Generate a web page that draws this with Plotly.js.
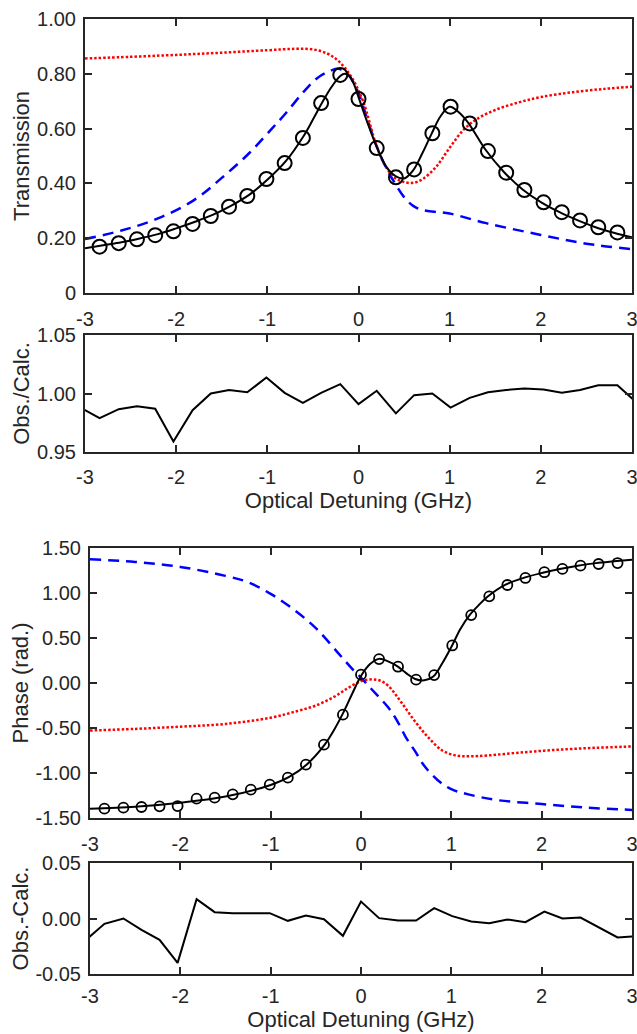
<!DOCTYPE html>
<html>
<head>
<meta charset="utf-8">
<script src="https://cdn.plot.ly/plotly-3.0.1.min.js"></script>
<style>
html,body{margin:0;padding:0;background:#fff;}
#chart{width:637px;height:1034px;}
</style>
</head>
<body>
<div id="chart"></div>
<script>
// ---------- data ----------
// measured detuning points (GHz); first/last lie just outside the plotted range
const detuning = [-3.04,-2.84,-2.63,-2.43,-2.23,-2.03,-1.82,-1.62,-1.42,-1.22,-1.01,-0.81,-0.61,-0.41,-0.20,0.00,0.20,0.41,0.61,0.81,1.01,1.22,1.42,1.62,1.82,2.03,2.23,2.43,2.63,2.84,3.04];
// observed transmission at detuning[1..29]
const transObs = [0.169,0.182,0.196,0.211,0.225,0.252,0.281,0.315,0.354,0.416,0.474,0.566,0.693,0.796,0.708,0.529,0.422,0.451,0.583,0.680,0.619,0.518,0.439,0.376,0.331,0.295,0.265,0.240,0.221];
// Obs./Calc. at every detuning point
const transRatio = [0.9874,0.979,0.9866,0.989,0.987,0.959,0.9857,1.000,1.003,1.001,1.0137,1.0006,0.992,1.0006,1.008,0.9909,1.0023,0.983,0.9986,1.000,0.988,0.9963,1.001,1.003,1.0043,1.0034,1.0006,1.003,1.007,1.007,0.993];

// fitted transmission (black solid)
const transFitX = [-3.0,-2.8,-2.6,-2.4,-2.2,-2.0,-1.8,-1.6,-1.4,-1.2,-1.0,-0.8,-0.6,-0.5,-0.4,-0.3,-0.2,-0.15,-0.1,-0.05,0.0,0.1,0.2,0.3,0.4,0.5,0.6,0.7,0.8,0.9,1.0,1.1,1.2,1.4,1.6,1.8,2.0,2.2,2.4,2.6,2.8,3.0];
const transFitY = [0.163,0.174,0.185,0.199,0.215,0.236,0.259,0.285,0.318,0.358,0.413,0.480,0.574,0.633,0.694,0.750,0.792,0.800,0.792,0.762,0.715,0.620,0.533,0.463,0.428,0.418,0.448,0.510,0.580,0.645,0.680,0.660,0.623,0.520,0.440,0.378,0.332,0.296,0.266,0.240,0.220,0.203];
// blue dashed component
const transBlueX = [-3.0,-2.6,-2.2,-1.8,-1.5,-1.2,-0.95,-0.8,-0.6,-0.45,-0.3,-0.22,-0.12,0.0,0.1,0.2,0.3,0.4,0.5,0.6,0.7,0.85,1.0,1.4,2.0,2.5,3.0];
const transBlueY = [0.197,0.228,0.272,0.340,0.420,0.510,0.600,0.655,0.735,0.785,0.812,0.818,0.800,0.730,0.630,0.535,0.460,0.400,0.350,0.318,0.303,0.296,0.290,0.255,0.212,0.180,0.160];
// red dotted component
const transRedX = [-3.0,-2.5,-2.0,-1.5,-1.0,-0.7,-0.5,-0.35,-0.25,-0.15,-0.05,0.05,0.2,0.3,0.4,0.5,0.6,0.7,0.85,1.0,1.15,1.3,1.5,1.75,2.0,2.35,2.7,3.0];
const transRedY = [0.856,0.862,0.869,0.877,0.886,0.891,0.889,0.875,0.855,0.822,0.772,0.700,0.535,0.460,0.420,0.405,0.402,0.415,0.460,0.530,0.595,0.635,0.668,0.695,0.715,0.733,0.745,0.753];

// observed phase at detuning[1..29]
const phaseObs = [-1.396,-1.385,-1.378,-1.370,-1.367,-1.285,-1.274,-1.237,-1.185,-1.130,-1.052,-0.907,-0.685,-0.352,0.093,0.266,0.181,0.037,0.088,0.417,0.755,0.963,1.089,1.167,1.231,1.268,1.304,1.322,1.333];
// Obs.-Calc. at every detuning point
const phaseResid = [-0.019,-0.0048,0.0,-0.0102,-0.0192,-0.040,0.0174,0.0057,0.0048,0.0045,0.0048,-0.0021,0.0027,-0.0006,-0.0156,0.0153,0.0003,-0.0018,-0.0018,0.0093,0.0021,-0.0027,-0.0042,-0.0009,-0.0033,0.0063,0.0,0.0009,-0.0081,-0.0171,-0.016];

const phaseFitX = [-3.0,-2.5,-2.0,-1.5,-1.0,-0.8,-0.6,-0.4,-0.3,-0.2,-0.1,0.0,0.1,0.2,0.3,0.4,0.5,0.6,0.7,0.8,0.9,1.0,1.1,1.2,1.3,1.4,1.6,1.8,2.0,2.2,2.4,2.6,2.8,3.0];
const phaseFitY = [-1.397,-1.375,-1.330,-1.262,-1.133,-1.047,-0.905,-0.682,-0.525,-0.338,-0.125,0.078,0.210,0.268,0.240,0.187,0.110,0.045,0.030,0.072,0.220,0.400,0.600,0.752,0.862,0.958,1.092,1.168,1.222,1.266,1.302,1.332,1.352,1.370];
const phaseBlueX = [-3.0,-2.5,-2.0,-1.5,-1.25,-1.0,-0.75,-0.5,-0.25,-0.1,0.0,0.1,0.3,0.4,0.5,0.6,0.7,0.85,1.0,1.2,1.5,2.0,2.5,3.0];
const phaseBlueY = [1.375,1.345,1.290,1.190,1.120,0.990,0.820,0.610,0.330,0.160,0.060,-0.050,-0.270,-0.420,-0.610,-0.760,-0.920,-1.080,-1.180,-1.240,-1.300,-1.345,-1.385,-1.410];
const phaseRedX = [-3.0,-2.5,-2.0,-1.5,-1.0,-0.7,-0.5,-0.3,-0.15,0.0,0.1,0.2,0.3,0.45,0.6,0.75,0.9,1.05,1.2,1.4,1.8,2.2,2.6,3.0];
const phaseRedY = [-0.528,-0.510,-0.485,-0.455,-0.385,-0.310,-0.250,-0.155,-0.060,0.020,0.040,0.030,-0.030,-0.220,-0.430,-0.610,-0.750,-0.805,-0.815,-0.805,-0.770,-0.740,-0.720,-0.705];

// tick labels
const xTicks = [-3,-2,-1,0,1,2,3];
const xTickText = ['-3','-2','-1','0','1','2','3'];
const transTicks = [0,0.2,0.4,0.6,0.8,1.0];
const transTickText = ['0','0.20','0.40','0.60','0.80','1.00'];
const ratioTicks = [0.95,1.0,1.05];
const ratioTickText = ['0.95','1.00','1.05'];
const phaseTicks = [-1.5,-1.0,-0.5,0,0.5,1.0,1.5];
const phaseTickText = ['-1.50','-1.00','-0.50','0.00','0.50','1.00','1.50'];
const residTicks = [-0.05,0,0.05];
const residTickText = ['-0.05','0.00','0.05'];

// ---------- style ----------
const AX = '#262626';
const FONT = 'Liberation Sans, Arial, sans-serif';
const inner = detuning.slice(1, detuning.length - 1);

function xAxis(domain, anchor, withTitle, labelGap) {
  const a = {
    domain: domain, anchor: anchor, range: [-3, 3],
    tickmode: 'array', tickvals: xTicks, ticktext: xTickText,
    ticks: 'inside', ticklen: 7, tickwidth: 2, tickcolor: AX,
    ticklabelstandoff: labelGap, ticklabeloverflow: 'allow',
    showline: true, linecolor: AX, linewidth: 2, mirror: 'ticks',
    showgrid: false, zeroline: false,
    tickfont: {family: FONT, size: 20, color: AX}
  };
  if (withTitle) a.title = {text: 'Optical Detuning (GHz)', font: {family: FONT, size: 22, color: AX}, standoff: 3};
  return a;
}
function yAxis(domain, anchor, range, vals, text, title) {
  return {
    domain: domain, anchor: anchor, range: range,
    tickmode: 'array', tickvals: vals, ticktext: text,
    ticks: 'inside', ticklen: 7, tickwidth: 2, tickcolor: AX,
    ticklabelstandoff: 3, ticklabeloverflow: 'allow',
    showline: true, linecolor: AX, linewidth: 2, mirror: 'ticks',
    showgrid: false, zeroline: false,
    tickfont: {family: FONT, size: 20, color: AX},
    title: {text: title, font: {family: FONT, size: 22, color: AX}, standoff: 1}
  };
}

const blueLine = {color: '#0000ff', width: 2.5, dash: '11px,7px', shape: 'spline'};
const redLine = {color: '#ff0000', width: 2.5, dash: '2.5px,2px', shape: 'spline'};
const blackLine = {color: '#000000', width: 2, shape: 'spline'};

const traces = [
  // top: transmission
  {x: transBlueX, y: transBlueY, xaxis: 'x', yaxis: 'y', mode: 'lines', line: blueLine},
  {x: transRedX, y: transRedY, xaxis: 'x', yaxis: 'y', mode: 'lines', line: redLine},
  {x: transFitX, y: transFitY, xaxis: 'x', yaxis: 'y', mode: 'lines', line: blackLine},
  {x: inner, y: transObs, xaxis: 'x', yaxis: 'y', mode: 'markers',
   marker: {symbol: 'circle-open', size: 14, color: '#000', line: {width: 2, color: '#000'}}},
  // ratio
  {x: detuning, y: transRatio, xaxis: 'x2', yaxis: 'y2', mode: 'lines', line: {color: '#000', width: 2}},
  // phase
  {x: phaseBlueX, y: phaseBlueY, xaxis: 'x3', yaxis: 'y3', mode: 'lines', line: blueLine},
  {x: phaseRedX, y: phaseRedY, xaxis: 'x3', yaxis: 'y3', mode: 'lines', line: redLine},
  {x: phaseFitX, y: phaseFitY, xaxis: 'x3', yaxis: 'y3', mode: 'lines', line: blackLine},
  {x: inner, y: phaseObs, xaxis: 'x3', yaxis: 'y3', mode: 'markers',
   marker: {symbol: 'circle-open', size: 10, color: '#000', line: {width: 1.8, color: '#000'}}},
  // residual
  {x: detuning, y: phaseResid, xaxis: 'x4', yaxis: 'y4', mode: 'lines', line: {color: '#000', width: 2}}
];

const W = 637, H = 1034;
const dTop = [85 / W, 632 / W];
const dBot = [90 / W, 632 / W];
const yd = (top, bottom) => [1 - bottom / H, 1 - top / H];

const layout = {
  width: W, height: H,
  margin: {l: 0, r: 0, t: 0, b: 0},
  paper_bgcolor: '#ffffff', plot_bgcolor: '#ffffff',
  showlegend: false,
  font: {family: FONT, color: AX},
  xaxis: xAxis(dTop, 'y', false, 7),
  yaxis: yAxis(yd(19, 293), 'x', [0, 1], transTicks, transTickText, 'Transmission'),
  xaxis2: xAxis(dTop, 'y2', true, 6),
  yaxis2: yAxis(yd(335, 452), 'x2', [0.95, 1.05], ratioTicks, ratioTickText, 'Obs./Calc.'),
  xaxis3: xAxis(dBot, 'y3', false, 7),
  yaxis3: yAxis(yd(548, 818), 'x3', [-1.5, 1.5], phaseTicks, phaseTickText, 'Phase (rad.)'),
  xaxis4: xAxis(dBot, 'y4', true, 3),
  yaxis4: yAxis(yd(863, 974), 'x4', [-0.05, 0.05], residTicks, residTickText, 'Obs.-Calc.')
};

Plotly.newPlot('chart', traces, layout, {staticPlot: true, displayModeBar: false});
</script>
</body>
</html>
